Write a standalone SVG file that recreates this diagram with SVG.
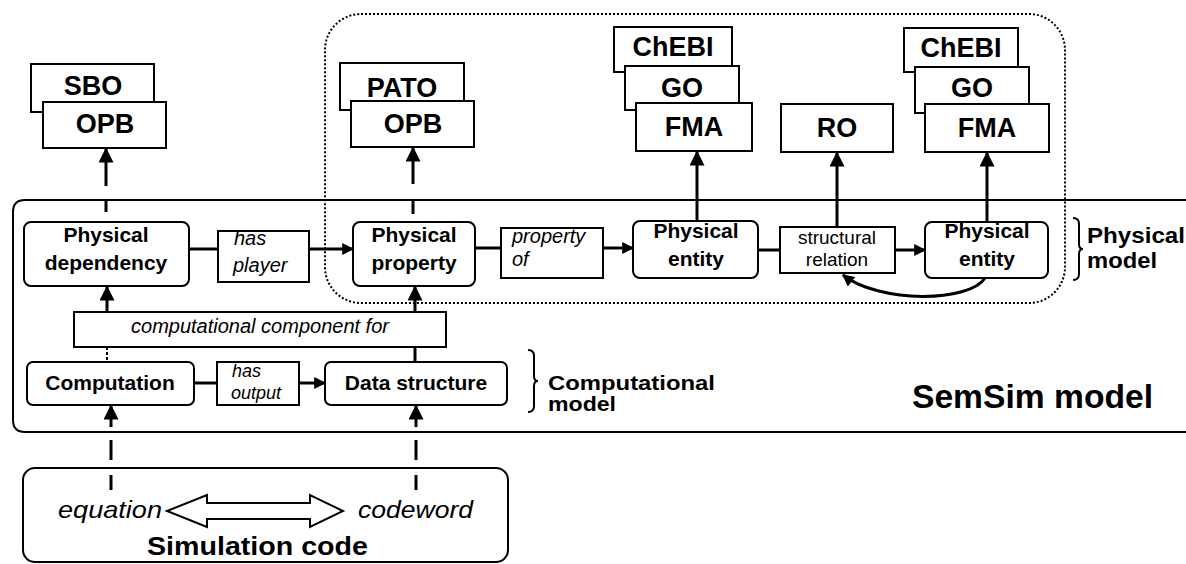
<svg xmlns="http://www.w3.org/2000/svg" width="1186" height="564" viewBox="0 0 1186 564">
<style>
.bx{fill:#fff;stroke:#000;stroke-width:2}
.ln{fill:none;stroke:#000;stroke-width:3}
.thin{fill:none;stroke:#000;stroke-width:2}
.dot{fill:none;stroke:#000;stroke-width:2;stroke-dasharray:2 2}
.b{font-family:"Liberation Sans",Arial,sans-serif;font-weight:bold;fill:#000}
.i{font-family:"Liberation Sans",Arial,sans-serif;font-style:italic;fill:#000}
.r{font-family:"Liberation Sans",Arial,sans-serif;fill:#000}
.ont{font-size:27px;text-anchor:middle}
.nd{font-size:21px;text-anchor:middle}
</style>
<defs>
<marker id="ah" viewBox="0 0 10 10" refX="9" refY="5" markerWidth="18" markerHeight="15" markerUnits="userSpaceOnUse" orient="auto"><path d="M0,0 L10,5 L0,10 z" fill="#000"/></marker>
<marker id="as" viewBox="0 0 10 10" refX="9" refY="5" markerWidth="14" markerHeight="12" markerUnits="userSpaceOnUse" orient="auto"><path d="M0,0 L10,5 L0,10 z" fill="#000"/></marker>
</defs>
<rect width="1186" height="564" fill="#fff"/>

<g id="semsim-model">
<path class="thin" d="M1190 200 H25 Q13 200 13 212 V420 Q13 432 25 432 H1190"/>
<text class="b" x="912" y="408" font-size="33" textLength="241" lengthAdjust="spacingAndGlyphs">SemSim model</text>
</g>

<g id="physical-model-region">
<rect class="dot" x="325" y="14" width="740" height="289" rx="36" ry="36"/>
<path class="thin" d="M1073 218 Q1079 218 1079 224 V244 Q1079 249 1083 249 Q1079 249 1079 254 V274 Q1079 280 1073 280"/>
<text class="b" x="1087" y="243" font-size="22" textLength="98" lengthAdjust="spacingAndGlyphs">Physical</text>
<text class="b" x="1087" y="268" font-size="22" textLength="70" lengthAdjust="spacingAndGlyphs">model</text>
</g>

<g id="computational-model-label">
<path class="thin" d="M528 350 Q534 350 534 356 V376 Q534 381 538 381 Q534 381 534 386 V406 Q534 412 528 412"/>
<text class="b" x="548" y="390" font-size="20" textLength="167" lengthAdjust="spacingAndGlyphs">Computational</text>
<text class="b" x="548" y="411" font-size="20" textLength="68" lengthAdjust="spacingAndGlyphs">model</text>
</g>

<g id="sbo"><rect class="bx" x="31" y="64" width="123" height="48"/><text class="b ont" x="93" y="95">SBO</text></g>
<g id="opb1"><rect class="bx" x="43" y="102" width="123" height="46"/><text class="b ont" x="105" y="133">OPB</text></g>
<g id="pato"><rect class="bx" x="340" y="63" width="124" height="47"/><text class="b ont" x="402" y="97">PATO</text></g>
<g id="opb2"><rect class="bx" x="351" y="101" width="123" height="46"/><text class="b ont" x="413" y="133">OPB</text></g>
<g id="chebi1"><rect class="bx" x="614" y="27" width="118" height="45"/><text class="b ont" x="673" y="56" font-size="26">ChEBI</text></g>
<g id="go1"><rect class="bx" x="625" y="66" width="114" height="44"/><text class="b ont" x="682" y="97">GO</text></g>
<g id="fma1"><rect class="bx" x="636" y="103" width="116" height="48"/><text class="b ont" x="694" y="136">FMA</text></g>
<g id="ro"><rect class="bx" x="781" y="104" width="112" height="48"/><text class="b ont" x="837" y="137">RO</text></g>
<g id="chebi2"><rect class="bx" x="904" y="28" width="114" height="44"/><text class="b ont" x="961" y="57" font-size="26">ChEBI</text></g>
<g id="go2"><rect class="bx" x="915" y="67" width="114" height="46"/><text class="b ont" x="972" y="97">GO</text></g>
<g id="fma2"><rect class="bx" x="925" y="104" width="124" height="48"/><text class="b ont" x="987" y="137">FMA</text></g>

<g id="physical-dependency"><rect class="bx" x="24" y="222" width="165" height="64" rx="7"/><text class="b nd" x="106" y="242">Physical</text><text class="b nd" x="106" y="270">dependency</text></g>
<g id="has-player"><rect class="bx" x="218" y="231" width="91" height="51"/><text class="i" x="234" y="245" font-size="20">has</text><text class="i" x="233" y="272" font-size="20">player</text></g>
<g id="physical-property"><rect class="bx" x="353" y="222" width="122" height="64" rx="7"/><text class="b nd" x="414" y="242">Physical</text><text class="b nd" x="414" y="270">property</text></g>
<g id="property-of"><rect class="bx" x="501" y="228" width="102" height="50"/><text class="i" x="512" y="243" font-size="20">property</text><text class="i" x="512" y="266" font-size="20">of</text></g>
<g id="physical-entity-1"><rect class="bx" x="633" y="221" width="125" height="57" rx="7"/><text class="b nd" x="696" y="238">Physical</text><text class="b nd" x="696" y="266">entity</text></g>
<g id="structural-relation"><rect class="bx" x="780" y="227" width="115" height="46"/><text class="r" x="837" y="244" font-size="19" text-anchor="middle">structural</text><text class="r" x="837" y="266" font-size="19" text-anchor="middle">relation</text></g>
<g id="physical-entity-2"><rect class="bx" x="925" y="222" width="123" height="56" rx="7"/><text class="b nd" x="987" y="238">Physical</text><text class="b nd" x="987" y="266">entity</text></g>

<g id="computational-component-for"><rect class="bx" x="74" y="312" width="372" height="35"/><text class="i" x="260" y="333" font-size="20" text-anchor="middle">computational component for</text></g>
<g id="computation"><rect class="bx" x="27" y="362" width="167" height="43" rx="6"/><text class="b nd" x="110" y="390">Computation</text></g>
<g id="has-output"><rect class="bx" x="217" y="362" width="82" height="43"/><text class="i" x="232" y="377" font-size="18">has</text><text class="i" x="231" y="399" font-size="18">output</text></g>
<g id="data-structure"><rect class="bx" x="325" y="362" width="182" height="43" rx="6"/><text class="b nd" x="416" y="390">Data structure</text></g>

<g id="simulation-code">
<rect class="thin" x="23" y="468" width="485" height="94" rx="12"/>
<text class="i" x="58" y="518" font-size="24" textLength="104" lengthAdjust="spacingAndGlyphs">equation</text>
<text class="i" x="358" y="518" font-size="24" textLength="115" lengthAdjust="spacingAndGlyphs">codeword</text>
<polygon class="bx" points="167,511 207,495 207,503 310,503 310,495 343,511 310,527 310,519 207,519 207,527"/>
<text class="b" x="147" y="555" font-size="25" textLength="221" lengthAdjust="spacingAndGlyphs">Simulation code</text>
</g>

<g id="connectors">
<line class="ln" x1="106" y1="186" x2="106" y2="149" marker-end="url(#ah)"/>
<line class="ln" x1="106" y1="199" x2="106" y2="212"/>
<line class="ln" x1="413" y1="184" x2="413" y2="148" marker-end="url(#ah)"/>
<line class="ln" x1="413" y1="199" x2="413" y2="214"/>
<line class="ln" x1="697" y1="221" x2="697" y2="152" marker-end="url(#ah)"/>
<line class="ln" x1="837" y1="227" x2="837" y2="153" marker-end="url(#ah)"/>
<line class="ln" x1="987" y1="222" x2="987" y2="153" marker-end="url(#ah)"/>
<line class="ln" x1="189" y1="249" x2="218" y2="249"/>
<line class="ln" x1="309" y1="249" x2="353" y2="249" marker-end="url(#as)"/>
<line class="ln" x1="475" y1="248" x2="501" y2="248"/>
<line class="ln" x1="603" y1="248" x2="633" y2="248" marker-end="url(#as)"/>
<line class="ln" x1="758" y1="250" x2="780" y2="250"/>
<line class="ln" x1="895" y1="250" x2="925" y2="250" marker-end="url(#as)"/>
<path class="ln" d="M985 278 C970 302 880 304 843 275" marker-end="url(#as)"/>
<line class="ln" x1="107" y1="312" x2="107" y2="287" marker-end="url(#ah)"/>
<line class="ln" x1="415" y1="312" x2="415" y2="287" marker-end="url(#ah)"/>
<line class="thin" x1="107" y1="347" x2="107" y2="362" stroke-dasharray="3 2"/>
<line class="ln" x1="415" y1="347" x2="415" y2="362"/>
<line class="ln" x1="194" y1="383" x2="217" y2="383"/>
<line class="ln" x1="299" y1="383" x2="325" y2="383" marker-end="url(#as)"/>
<line class="ln" x1="111" y1="427" x2="111" y2="406" marker-end="url(#ah)"/>
<line class="ln" x1="111" y1="440" x2="111" y2="460"/>
<line class="ln" x1="111" y1="475" x2="111" y2="490"/>
<line class="ln" x1="416" y1="427" x2="416" y2="406" marker-end="url(#ah)"/>
<line class="ln" x1="416" y1="440" x2="416" y2="460"/>
<line class="ln" x1="416" y1="475" x2="416" y2="490"/>
</g>
</svg>
